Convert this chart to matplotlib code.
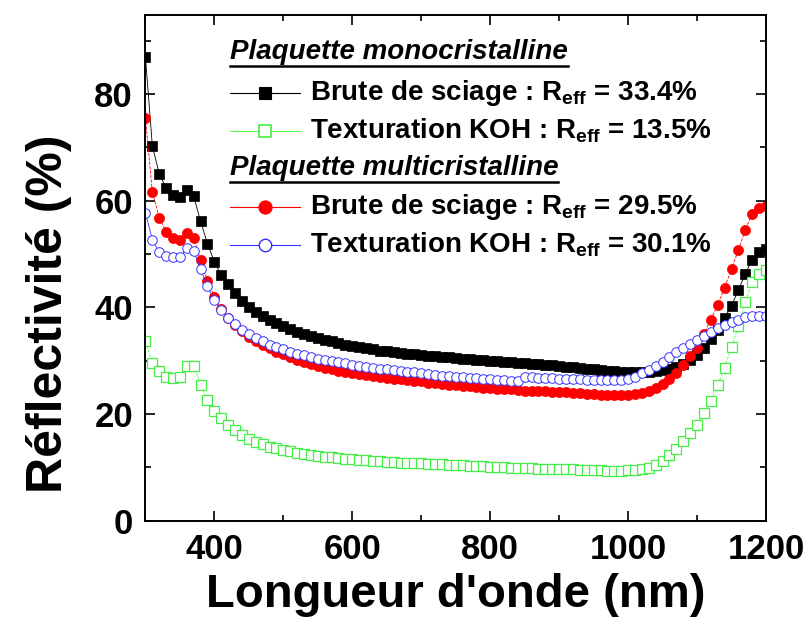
import matplotlib
matplotlib.use("Agg")
import matplotlib.pyplot as plt
import numpy as np
from matplotlib.lines import Line2D

plt.rcParams['font.family'] = ['Liberation Sans', 'DejaVu Sans']
plt.rcParams['font.weight'] = 'bold'
plt.rcParams['mathtext.fontset'] = 'custom'
plt.rcParams['mathtext.rm'] = 'Liberation Sans:bold'
plt.rcParams['mathtext.it'] = 'Liberation Sans:bold'
plt.rcParams['mathtext.bf'] = 'Liberation Sans:bold'

# wavelength (nm), 10 nm step
wl = np.arange(300, 1201, 10)

mono_brute = [
    86.9, 70.3, 65.0, 62.4, 61.1, 60.6, 61.9, 60.8, 56.1, 51.9,
    48.5, 46.0, 44.3, 42.6, 41.2, 40.1, 39.2, 38.4, 37.7, 37.0,
    36.4, 35.9, 35.4, 35.0, 34.6, 34.2, 33.9, 33.6, 33.3, 33.0,
    32.7, 32.5, 32.3, 32.1, 31.9, 31.8, 31.6, 31.5, 31.3, 31.2,
    31.1, 30.9, 30.8, 30.7, 30.6, 30.5, 30.4, 30.3, 30.2, 30.1,
    30.0, 29.9, 29.8, 29.7, 29.6, 29.5, 29.4, 29.3, 29.2, 29.1,
    29.0, 28.9, 28.8, 28.6, 28.5, 28.4, 28.3, 28.1, 28.0, 27.9,
    27.8, 27.8, 27.8, 27.9, 28.0, 28.2, 28.4, 28.8, 29.4, 30.1,
    31.0, 32.3, 34.0, 35.8, 38.0, 40.3, 43.2, 46.3, 48.9, 50.4,
    51.0]

mono_koh = [
    33.6, 29.6, 28.1, 26.9, 26.7, 27.0, 29.0, 29.0, 25.5, 22.6,
    20.6, 19.2, 18.0, 17.0, 16.1, 15.3, 14.8, 14.4, 13.9, 13.6,
    13.3, 13.0, 12.7, 12.5, 12.3, 12.1, 12.0, 11.9, 11.7, 11.6,
    11.5, 11.4, 11.3, 11.2, 11.1, 11.0, 11.0, 10.9, 10.9, 10.8,
    10.8, 10.7, 10.6, 10.6, 10.5, 10.4, 10.4, 10.3, 10.2, 10.2,
    10.1, 10.0, 10.0, 9.9, 9.9, 9.8, 9.8, 9.7, 9.7, 9.7,
    9.6, 9.6, 9.6, 9.5, 9.5, 9.5, 9.5, 9.4, 9.4, 9.4,
    9.5, 9.5, 9.6, 9.9, 10.4, 11.2, 12.3, 13.5, 14.9, 16.4,
    18.0, 20.1, 22.4, 25.4, 28.7, 32.5, 36.5, 40.9, 44.8, 46.3,
    47.0]

multi_brute = [
    75.5, 61.6, 56.8, 54.2, 53.0, 52.7, 54.0, 53.0, 48.8, 45.0,
    42.0, 39.7, 38.0, 36.7, 35.5, 34.5, 33.7, 33.0, 32.3, 31.7,
    31.2, 30.7, 30.2, 29.8, 29.4, 29.0, 28.7, 28.4, 28.1, 27.9,
    27.7, 27.5, 27.3, 27.1, 26.9, 26.8, 26.6, 26.5, 26.3, 26.2,
    26.1, 25.9, 25.8, 25.7, 25.5, 25.4, 25.3, 25.2, 25.0, 24.9,
    24.8, 24.7, 24.6, 24.6, 24.5, 24.4, 24.4, 24.3, 24.3, 24.2,
    24.2, 24.1, 24.0, 23.9, 23.8, 23.7, 23.6, 23.5, 23.5, 23.5,
    23.6, 23.8, 24.0, 24.4, 24.9, 25.7, 26.6, 27.7, 29.2, 30.8,
    32.3, 35.0, 37.7, 40.5, 43.7, 47.2, 50.7, 54.5, 57.5, 58.6,
    58.9]

multi_koh = [
    57.7, 52.7, 50.3, 49.7, 49.4, 49.4, 51.1, 50.5, 47.2, 43.9,
    41.3, 39.4, 38.0, 36.9, 35.8, 35.0, 34.2, 33.6, 33.0, 32.5,
    32.1, 31.7, 31.3, 31.0, 30.7, 30.4, 30.2, 29.9, 29.7, 29.5,
    29.2, 29.0, 28.8, 28.7, 28.5, 28.4, 28.2, 28.0, 27.9, 27.8,
    27.6, 27.5, 27.4, 27.2, 27.1, 27.0, 26.9, 26.8, 26.7, 26.6,
    26.5, 26.4, 26.3, 26.2, 26.1, 26.9, 26.9, 26.8, 26.8, 26.7,
    26.6, 26.6, 26.5, 26.5, 26.4, 26.4, 26.3, 26.3, 26.3, 26.4,
    26.6, 27.0, 27.6, 28.3, 29.0, 29.8, 30.7, 31.6, 32.4, 33.2,
    33.9, 34.6, 35.4, 36.1, 36.7, 37.3, 37.7, 38.1, 38.3, 38.4,
    38.3]

labels = [
    r'Brute de sciage : R$_{\mathrm{eff}}$ = 33.4%',
    r'Texturation KOH : R$_{\mathrm{eff}}$ = 13.5%',
    r'Brute de sciage : R$_{\mathrm{eff}}$ = 29.5%',
    r'Texturation KOH : R$_{\mathrm{eff}}$ = 30.1%',
]
headers = ['Plaquette monocristalline', 'Plaquette multicristalline']

styles = [
    dict(color='black', marker='s', ms=6.5, mfc='black', mec='black', mew=0.5, lw=0.6),
    dict(color='#55ff55', marker='s', ms=6.6, mfc='white', mec='#44ee44', mew=0.9, lw=0.6, ls='--'),
    dict(color='red', marker='o', ms=7.3, mfc='red', mec='red', mew=0.5, lw=0.6, ls='--'),
    dict(color='#3333ff', marker='o', ms=6.9, mfc='white', mec='#3333ff', mew=0.7, lw=0.6),
]
series = [mono_brute, mono_koh, multi_brute, multi_koh]

fig = plt.figure(figsize=(8.08, 6.21), dpi=100)
ax = fig.add_axes([0.180, 0.1615, 0.768, 0.8145])

for y, st in zip(series, styles):
    ax.plot(wl, y, **st)

ax.set_xlim(300, 1200)
ax.set_ylim(0, 94.8)
ax.set_xticks(np.arange(400, 1201, 200))
ax.set_xticks(np.arange(300, 1201, 100), minor=True)
ax.set_yticks(np.arange(0, 81, 20))
ax.set_yticks(np.arange(0, 91, 10), minor=True)
ax.tick_params(which='both', direction='in', top=True, right=True, width=1.2)
ax.tick_params(which='major', length=7, labelsize=25, pad=9)
ax.tick_params(which='minor', length=4)
for sp in ax.spines.values():
    sp.set_linewidth(1.4)

ax.set_xlabel("Longueur d'onde (nm)", fontsize=34, fontweight='bold', labelpad=5)
ax.set_ylabel("Réflectivité (%)", fontsize=36, fontweight='bold')
ax.yaxis.set_label_coords(-0.118, 0.41)

# custom legend
hx0, hx1, hxm, tx = 0.136, 0.249, 0.192, 0.265
rows = [0.846, 0.770, 0.620, 0.545]
head_y = [0.927, 0.697]
for hy, h in zip(head_y, headers):
    t = ax.text(hx0, hy, h, transform=ax.transAxes, fontsize=20, fontstyle='italic',
                fontweight='bold', va='center', ha='left')
    fig.canvas.draw()
    bb = t.get_window_extent().transformed(ax.transAxes.inverted())
    ax.add_line(Line2D([bb.x0, bb.x1], [bb.y0 - 0.002, bb.y0 - 0.002],
                       transform=ax.transAxes, color='black', lw=1.8))
for ry, lab, st in zip(rows, labels, styles):
    s = dict(st)
    ax.add_line(Line2D([hx0, hx1], [ry, ry], transform=ax.transAxes,
                       color=s['color'], lw=0.8))
    ax.add_line(Line2D([hxm], [ry], transform=ax.transAxes, marker=s['marker'],
                       ms=s['ms'] * 1.3, mfc=s['mfc'], mec=s['mec'], mew=s['mew'] + 0.3, ls='none'))
    ax.text(tx, ry, lab, transform=ax.transAxes, fontsize=20, fontweight='bold',
            va='center', ha='left')

fig.savefig('out.png', dpi=100)
